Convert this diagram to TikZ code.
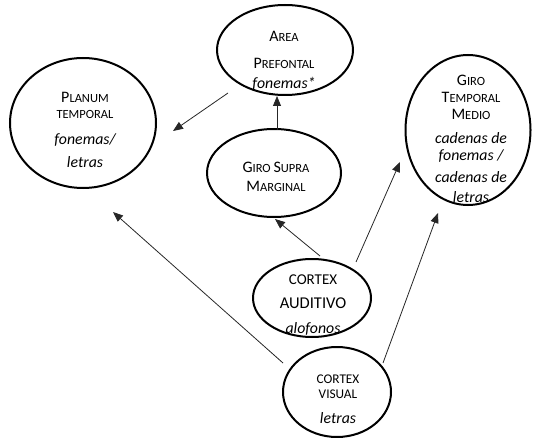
\documentclass[tikz,border=0pt]{standalone}
\usepackage{fontspec}
\setmainfont{Carlito}
\usetikzlibrary{shapes.geometric,arrows.meta}
\newcommand\bigC[1]{{\fontsize{16}{16}\selectfont #1}}
\newcommand\itx[1]{{\itshape\fontsize{15.8}{16}\selectfont #1}}
\tikzset{
  region/.style={ellipse, draw=black, line width=2pt, inner sep=0pt},
  lbl/.style={align=center, inner sep=0pt, anchor=north, text=black},
  arr/.style={-{Triangle[length=10pt,width=8pt]}, line width=0.8pt, black!85}
}
\begin{document}
\begin{tikzpicture}[x=1pt,y=-1pt]
\useasboundingbox (0,0) rectangle (537,438);
% regions
\node[region, minimum width=146pt, minimum height=130pt] (pt) at (83,123) {};
\node[region, minimum width=136pt, minimum height=90pt] (ap) at (285,50) {};
\node[region, minimum width=125pt, minimum height=150pt] (gtm) at (468,130) {};
\node[region, minimum width=134pt, minimum height=88pt] (gsm) at (274,173) {};
\node[region, minimum width=118pt, minimum height=78pt] (ca) at (312,298) {};
\node[region, minimum width=108pt, minimum height=90pt] (cv) at (337,392) {};
% texts
\node[lbl, font=\fontsize{12.5}{16}\selectfont] (ptt) at (85,92)
  {\bigC{P}LANUM\\TEMPORAL\\[10pt]\itx{fonemas/}\\[7pt]\itx{letras}};
\node[lbl, font=\fontsize{12.5}{16}\selectfont] (apt) at (284,31)
  {\bigC{A}REA\\[11pt]\bigC{P}REFONTAL\\[4pt]\itx{fonemas*}};
\node[lbl, font=\fontsize{12.5}{17}\selectfont] (gtmt) at (471,74.5)
  {\bigC{G}IRO\\\bigC{T}EMPORAL\\\bigC{M}EDIO\\[7.5pt]\itx{cadenas de}\\\itx{fonemas /}\\[5pt]\itx{cadenas de}\\[3pt]\itx{letras}};
\node[lbl, font=\fontsize{12.5}{17}\selectfont] (gsmt) at (276,161.5)
  {\bigC{G}IRO \bigC{S}UPRA\\[2.4pt]\bigC{M}ARGINAL};
\node[lbl, font=\fontsize{15}{17}\selectfont] (cat) at (313,275)
  {CORTEX\\[6.3pt]{\fontsize{16.5}{17}\selectfont AUDITIVO}\\[8pt]\itx{alofonos}};
\node[lbl, font=\fontsize{13.3}{15}\selectfont] (cvt) at (338,375)
  {CORTEX\\VISUAL\\[10pt]\itx{letras}};
% arrow end points
\coordinate (a1s) at (228,93);  \coordinate (a1e) at (173,131);
\coordinate (a2s) at (277,130); \coordinate (a2e) at (277,96);
\coordinate (a3s) at (283,363); \coordinate (a3e) at (113,212);
\coordinate (a4s) at (320,256); \coordinate (a4e) at (275,219);
\coordinate (a5s) at (356,262); \coordinate (a5e) at (400,162);
\coordinate (a6s) at (383,363); \coordinate (a6e) at (438,213);
\draw[arr] (a1s) -- (a1e);
\draw[arr] (a2s) -- (a2e);
\draw[arr] (a3s) -- (a3e);
\draw[arr] (a4s) -- (a4e);
\draw[arr] (a5s) -- (a5e);
\draw[arr] (a6s) -- (a6e);
\end{tikzpicture}
\end{document}
